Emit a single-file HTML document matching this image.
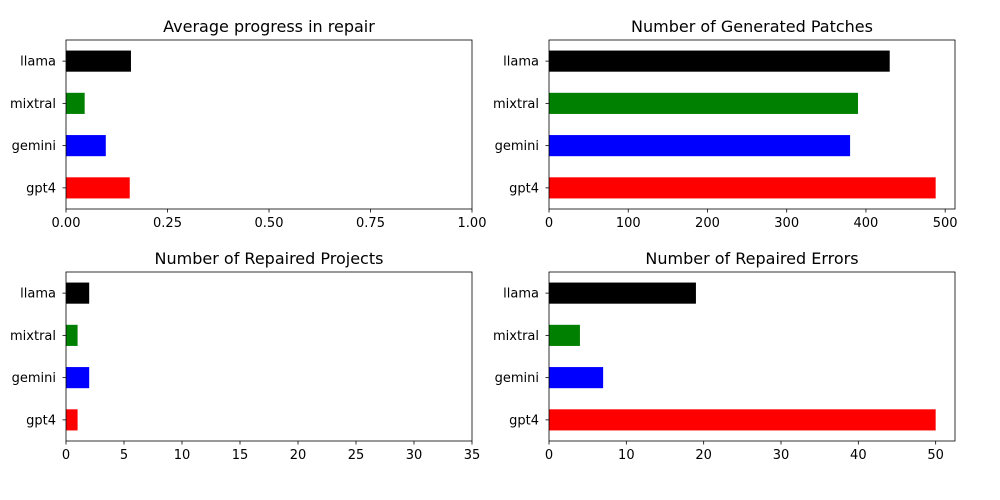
<!DOCTYPE html>
<html><head><meta charset="utf-8"><style>
body{margin:0;background:#fff;}
svg{display:block;font-family:"DejaVu Sans","Liberation Sans",sans-serif;}
</style></head><body>
<svg id="chart" width="1000" height="500"></svg>
<script>
const categories = ["gpt4","gemini","mixtral","llama"];
const barColors = ["red","blue","green","black"];
const progressValues = [0.157, 0.098, 0.046, 0.160];
const patchValues = [488, 380, 390, 430];
const projectValues = [1, 2, 1, 2];
const errorValues = [50, 7, 4, 19];
const progressTicks = ["0.00","0.25","0.50","0.75","1.00"];
const patchTicks = ["0","100","200","300","400","500"];
const projectTicks = ["0","5","10","15","20","25","30","35"];
const errorTicks = ["0","10","20","30","40","50"];

const NS="http://www.w3.org/2000/svg";
const svg=document.getElementById('chart');
function mk(tag,attrs,parent){const e=document.createElementNS(NS,tag);for(const k in attrs)e.setAttribute(k,attrs[k]);(parent||svg).appendChild(e);return e;}

const panels=[
 {title:"Average progress in repair",vals:progressValues,ticks:progressTicks,xmax:1,x0:66,y0:40,name:"progress"},
 {title:"Number of Generated Patches",vals:patchValues,ticks:patchTicks,xmax:null,x0:549,y0:40,name:"patches"},
 {title:"Number of Repaired Projects",vals:projectValues,ticks:projectTicks,xmax:35,x0:66,y0:272,name:"projects"},
 {title:"Number of Repaired Errors",vals:errorValues,ticks:errorTicks,xmax:null,x0:549,y0:272,name:"errors"}
];
const W=406,H=169;
panels.forEach(p=>{
  const g=mk('g',{});
  
  
  const xmax=p.xmax!==null?p.xmax:Math.max(...p.vals)*1.05;
  const xs=v=>p.x0+v/xmax*W;
  const ys=i=>p.y0+H-((i+0.5)/4)*H;
  p.vals.forEach((v,i)=>{
    const r=mk('rect',{x:xs(0),y:ys(i)-H/16,width:xs(v)-xs(0),height:H/8,fill:barColors[i]},g);
    
    
    mk('line',{x1:p.x0-3.5,x2:p.x0,y1:ys(i),y2:ys(i),stroke:'#000','stroke-width':0.8},g);
    const t=mk('text',{x:p.x0-10,y:ys(i)+4.5,'text-anchor':'end','font-size':13},g);
    t.textContent=categories[i];
    
    
  });
  p.ticks.forEach(tk=>{
    const x=xs(parseFloat(tk));
    mk('line',{x1:x,x2:x,y1:p.y0+H,y2:p.y0+H+3.5,stroke:'#000','stroke-width':0.8},g);
    const t=mk('text',{x:x,y:p.y0+H+18,'text-anchor':'middle','font-size':13},g);
    t.textContent=tk;
    
    
  });
  const fr=mk('rect',{x:p.x0,y:p.y0,width:W,height:H,fill:'none',stroke:'#000','stroke-width':0.8},g);
  
  
  const tt=mk('text',{x:p.x0+W/2,y:p.y0-8,'text-anchor':'middle','font-size':16},g);
  tt.textContent=p.title;
  
  
});
</script>
</body></html>
